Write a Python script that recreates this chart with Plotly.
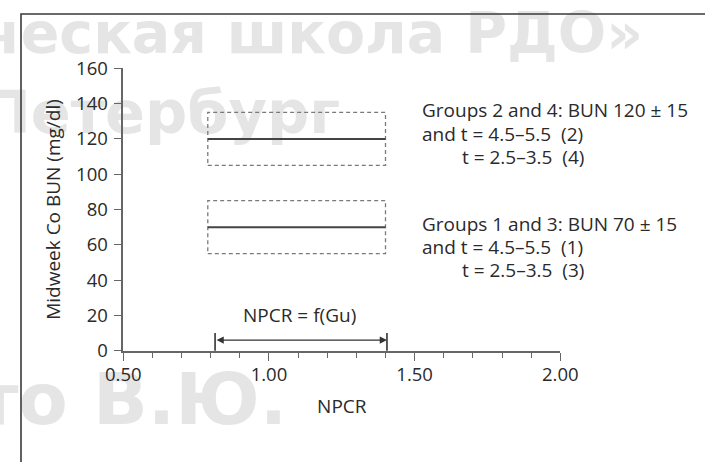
import plotly.graph_objects as go

# --- data ---------------------------------------------------------------
bun_centres = [120, 70]          # midweek BUN targets (mg/dl)
bun_spread = 15                  # ± band around each target
npcr_box = [0.79, 1.40]          # NPCR span of the target windows
npcr_arrow = [0.815, 1.405]      # NPCR = f(Gu) range
arrow_level = 6                  # BUN height of the range arrow
x_ticks = [0.50, 1.00, 1.50, 2.00]
y_ticks = [0, 20, 40, 60, 80, 100, 120, 140, 160]

group_notes = [
    ["Groups 2 and 4: BUN 120 ± 15", "and t = 4.5–5.5  (2)", "t = 2.5–3.5  (4)"],
    ["Groups 1 and 3: BUN 70 ± 15", "and t = 4.5–5.5  (1)", "t = 2.5–3.5  (3)"],
]
watermark = ["ческая школа РДО»", "Петербург", "то В.Ю."]

FONT = "Open Sans"
TXT = "#2a2a2a"
AX = "#666666"
PW, PH = 705, 462


def fx(p):
    """page pixel -> paper x"""
    return p / PW


def fy(p):
    """page pixel (from top) -> paper y"""
    return 1 - p / PH


fig = go.Figure()

# faint lettering on a full-page layer underneath the chart (x/y, pixel units)
wm_x = [643, 340, 287]
wm_y = [39, 118, 406]
wm_size = [57, 59, 72]
for t, x, y, s in zip(watermark, wm_x, wm_y, wm_size):
    fig.add_trace(go.Scatter(
        x=[x], y=[y], mode="text", text=[t], textposition="middle left",
        textfont=dict(family="DejaVu Sans", size=s, color="#e5e5e5", weight="bold"),
        cliponaxis=False, hoverinfo="skip", showlegend=False,
        xaxis="x", yaxis="y"))

# chart itself lives on x2/y2
CH = dict(xaxis="x2", yaxis="y2", hoverinfo="skip", showlegend=False)

# dashed target windows with the solid target level inside
for c in bun_centres:
    lo, hi = c - bun_spread, c + bun_spread
    fig.add_trace(go.Scatter(
        x=[npcr_box[0], npcr_box[1], npcr_box[1], npcr_box[0], npcr_box[0]],
        y=[lo, lo, hi, hi, lo], mode="lines",
        line=dict(color="#7a7a7a", width=1.3, dash="4px,3px"), **CH))
    fig.add_trace(go.Scatter(
        x=npcr_box, y=[c, c], mode="lines",
        line=dict(color="#444444", width=2), **CH))

# end bars of the NPCR range
for xv in npcr_arrow:
    fig.add_trace(go.Scatter(
        x=[xv, xv], y=[-4.5, 10], mode="lines",
        line=dict(color="#333333", width=1.6), cliponaxis=False, **CH))

# double-headed range arrow
fig.add_annotation(
    x=npcr_arrow[1], y=arrow_level, ax=npcr_arrow[0], ay=arrow_level,
    xref="x2", yref="y2", axref="x2", ayref="y2", text="",
    showarrow=True, arrowhead=2, startarrowhead=2, arrowside="end+start",
    arrowsize=1.2, startarrowsize=1.2, arrowwidth=1.2, arrowcolor="#333333",
    standoff=0, startstandoff=0)

fig.add_annotation(
    x=sum(npcr_arrow) / 2 - 0.005, y=20, xref="x2", yref="y2",
    text="NPCR = f(Gu)", showarrow=False,
    font=dict(family=FONT, size=19, color=TXT))

# group descriptions at the right of the panel
for block, base in zip(group_notes, [116.7, 230.0]):
    for i, line in enumerate(block):
        fig.add_annotation(
            x=fx(459.5 if i == 2 else 419.5), y=fy(base + 23.3 * i - 6.5),
            xref="paper", yref="paper", xanchor="left", yanchor="middle",
            text=line, showarrow=False,
            font=dict(family=FONT, size=19, color=TXT))

# outer frame (left and top edges)
fig.add_shape(
    type="path", xref="paper", yref="paper",
    path=f"M {fx(21)},{fy(470)} L {fx(21)},{fy(14)} L {fx(710)},{fy(14)}",
    line=dict(color="#3a3a3a", width=1.6))

hidden = dict(visible=False, showgrid=False, zeroline=False, fixedrange=True)
fig.update_layout(
    xaxis=dict(range=[0, PW], domain=[0, 1], **hidden),
    yaxis=dict(range=[PH, 0], domain=[0, 1], **hidden),
    xaxis2=dict(
        anchor="y2", domain=[fx(123.3), fx(560.3)],
        range=[0.5, 2.0], tickvals=x_ticks,
        ticktext=[f"{v:.2f}" for v in x_ticks],
        ticks="outside", ticklen=8, tickwidth=1.4, tickcolor=AX,
        minor=dict(dtick=0.1, tick0=0.5, ticks="outside", ticklen=5,
                   tickwidth=1.2, tickcolor=AX),
        showline=True, linecolor=AX, linewidth=1.6, showgrid=False,
        zeroline=False, tickfont=dict(family=FONT, size=18.5, color=TXT),
        ticklabelstandoff=-2,
        title=dict(text="NPCR", font=dict(family=FONT, size=19, color=TXT),
                   standoff=15)),
    yaxis2=dict(
        anchor="x2", domain=[fy(350.7), fy(68.3)],
        range=[0, 160], tickvals=y_ticks,
        ticks="outside", ticklen=8, tickwidth=1.4, tickcolor=AX,
        showline=True, linecolor=AX, linewidth=1.6, showgrid=False,
        zeroline=False, tickfont=dict(family=FONT, size=18.5, color=TXT),
        ticklabelstandoff=2,
        title=dict(text="Midweek Co BUN (mg/dl)",
                   font=dict(family=FONT, size=19, color=TXT), standoff=10)),
    width=PW, height=PH,
    margin=dict(l=0, r=0, t=0, b=0, autoexpand=False),
    plot_bgcolor="rgba(0,0,0,0)", paper_bgcolor="white", showlegend=False)

fig.write_html("out.html")
